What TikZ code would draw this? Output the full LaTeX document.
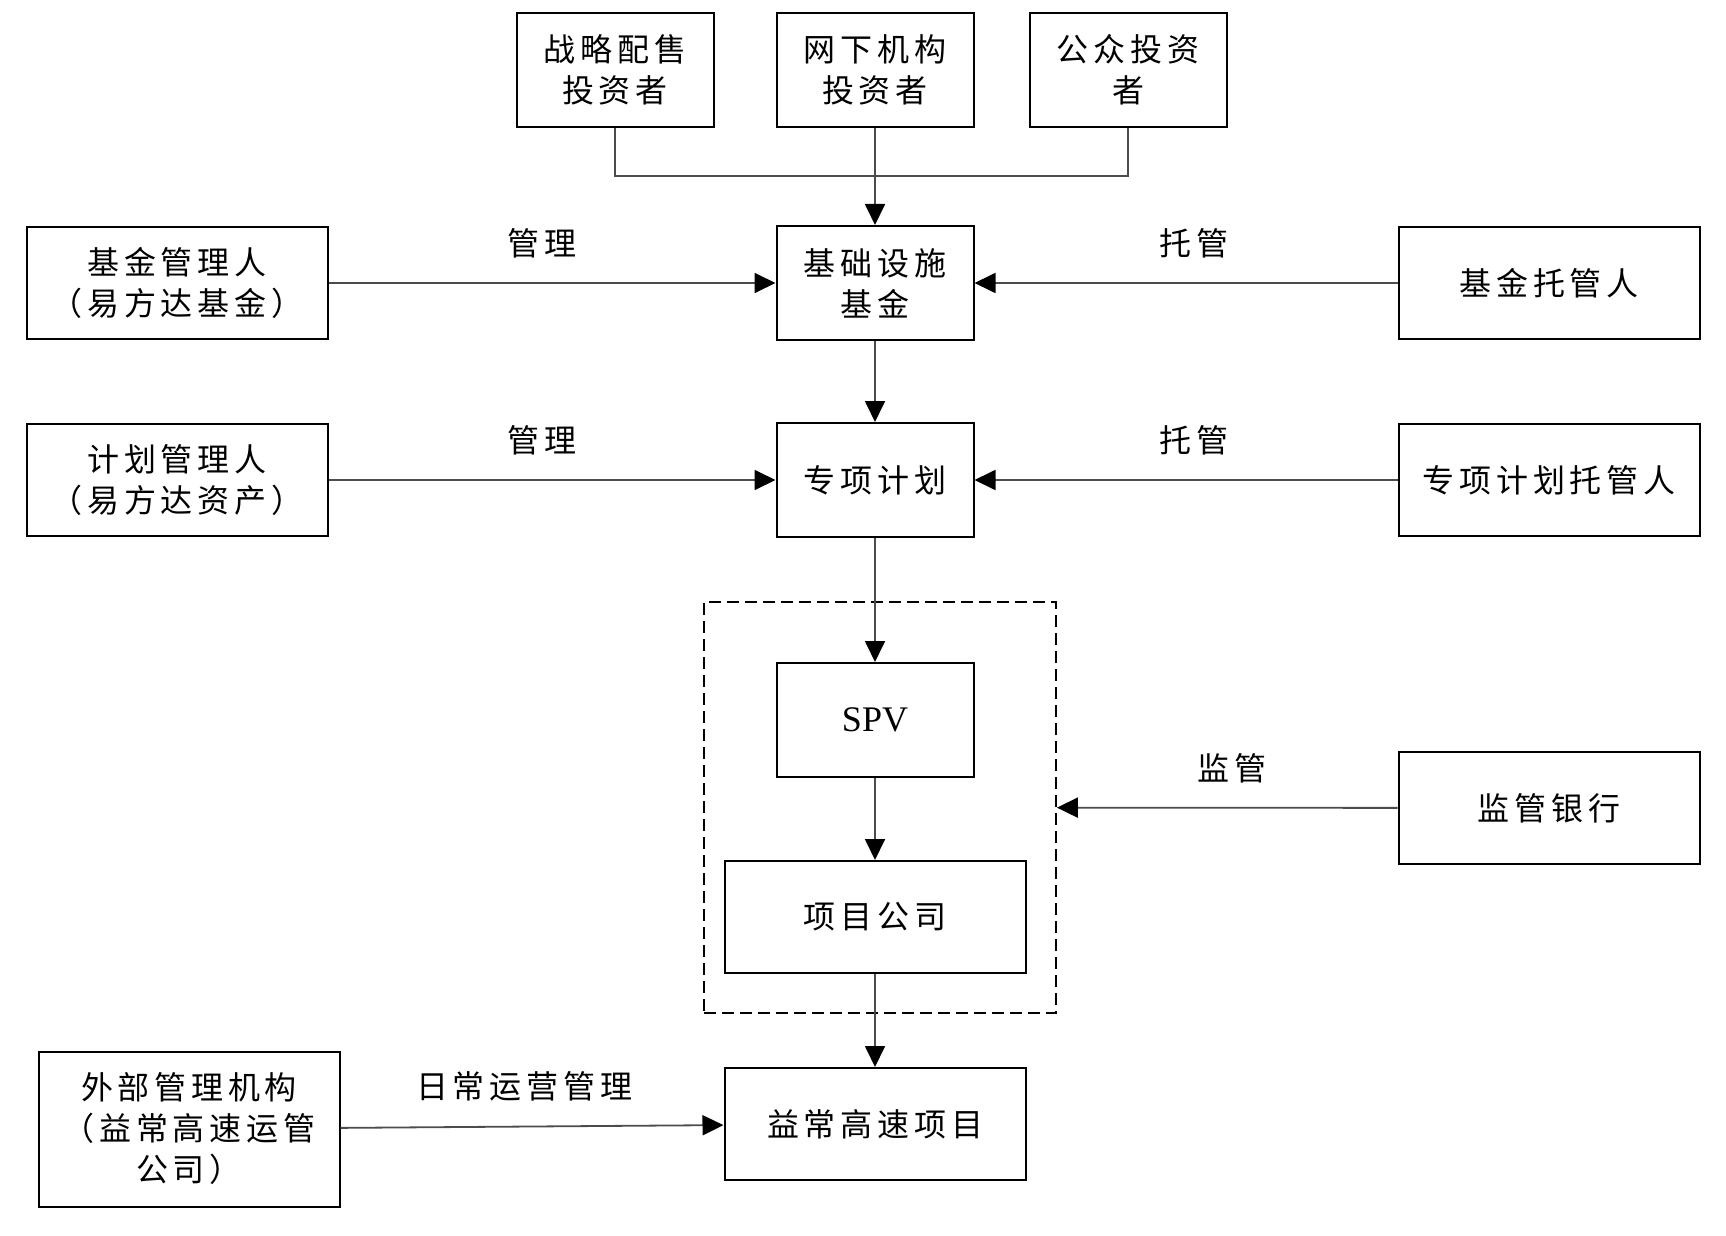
\documentclass[tikz,border=0pt]{standalone}
\usepackage{fontspec}
\newfontfamily\cjkfont[LetterSpace=15]{Noto Sans CJK SC}
\newfontfamily\spvfont{Liberation Serif}
\usetikzlibrary{arrows.meta}

\tikzset{
	entity/.style={draw, line width=1pt, minimum width=98.5pt, minimum height=57pt,
		align=center, inner sep=0pt, font=\fontsize{16}{20.5}\selectfont\cjkfont},
	wideentity/.style={entity, minimum width=150.5pt, minimum height=56pt},
	spvframe/.style={draw, dash pattern=on 6pt off 3pt, line width=0.9pt,
		minimum width=176pt, minimum height=205.5pt, inner sep=0pt},
	wire/.style={line width=0.9pt, black!70},
	flow/.style={wire, -{Triangle[length=10.5pt,width=10pt,color=black]}},
	flowlabel/.style={above=12pt, inner sep=0pt, text=black,
		font=\fontsize{16}{20}\selectfont\cjkfont}
}

\begin{document}
\begin{tikzpicture}[x=0.5pt, y=-0.5pt]
		\useasboundingbox (0,0) rectangle (1726,1236);
		% investors
		\node [entity] (strat) at (615,70) {战略配售\\投资者};
		\node [entity] (offline) at (875,70) {网下机构\\投资者};
		\node [entity] (public) at (1128,70) {公众投资\\者};
		% fund level
		\node [wideentity] (fundmgr) at (177,283) {基金管理人\\（易方达基金）};
		\node [entity] (fund) at (875,283) {基础设施\\基金};
		\node [wideentity] (fundcust) at (1549,283) {基金托管人};
		% plan level
		\node [wideentity] (planmgr) at (177,480) {计划管理人\\（易方达资产）};
		\node [entity] (plan) at (875,480) {专项计划};
		\node [wideentity] (plancust) at (1549,480) {专项计划托管人};
		% project level
		\node [spvframe] (frame) at (880,807.5) {};
		\node [entity, font=\fontsize{18}{20}\selectfont\spvfont] (spv) at (875,720) {SPV};
		\node [wideentity] (projco) at (875,917) {项目公司};
		\node [wideentity] (bank) at (1549,808) {监管银行};
		\node [wideentity, minimum height=77.5pt] (extmgr) at (189,1129)
			{外部管理机构\\（益常高速运管\\公司）};
		\node [wideentity] (road) at (875,1124) {益常高速项目};
		\coordinate (join) at (875,176);
		% connectors
		\draw [wire] (strat.south) |- (join) -| (public.south);
		\draw [flow] (offline) -- (fund);
		\draw [flow] (fundmgr) to
			node [flowlabel, xshift=-5pt] {管理}
			(fund);
		\draw [flow] (fundcust) to
			node [flowlabel, xshift=4pt] {托管}
			(fund);
		\draw [flow] (fund) -- (plan);
		\draw [flow] (planmgr) to
			node [flowlabel, xshift=-5pt] {管理}
			(plan);
		\draw [flow] (plancust) to
			node [flowlabel, xshift=4pt] {托管}
			(plan);
		\draw [flow] (plan) -- (spv);
		\draw [flow] (spv) -- (projco);
		\draw [flow] (bank) to
			node [flowlabel, xshift=2.5pt] {监管}
			(frame);
		\draw [flow] (projco) -- (road);
		\draw [flow] (extmgr) to
			node [flowlabel, xshift=-4pt] {日常运营管理}
			(road);
	\end{tikzpicture}
\end{document}
